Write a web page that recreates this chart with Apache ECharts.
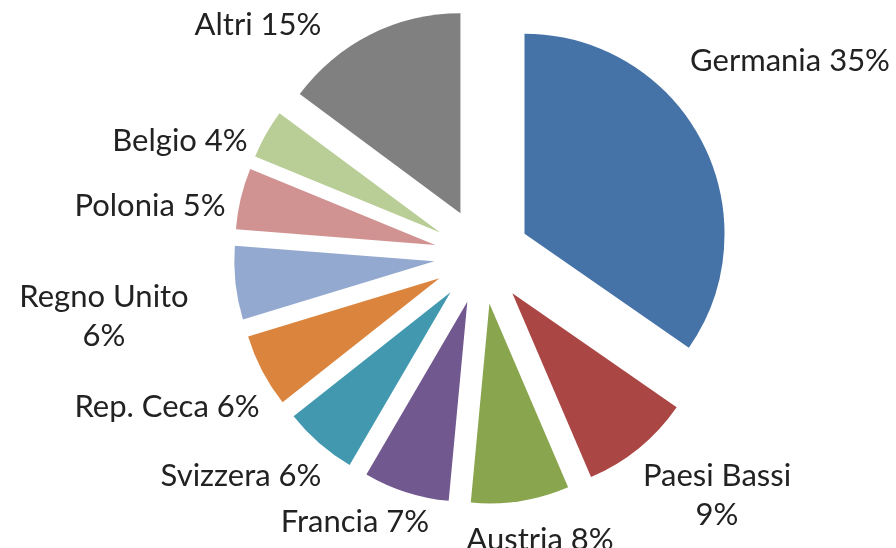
<!DOCTYPE html>
<html lang="it">
<head>
  <meta charset="utf-8">
  <title>Export per paese</title>
  <script src="https://cdn.jsdelivr.net/npm/echarts@6/dist/echarts.min.js"></script>
  <style>
    html, body { margin: 0; padding: 0; background: #fff; }
    #main { width: 896px; height: 548px; }
  </style>
</head>
<body>
<div id="main"></div>
<script type="text/javascript">
// dati: quota per paese (%)
var paesi = ['Germania', 'Paesi Bassi', 'Austria', 'Francia', 'Svizzera', 'Rep. Ceca', 'Regno Unito', 'Polonia', 'Belgio', 'Altri'];
var quote = [35, 9, 8, 7, 6, 6, 6, 5, 4, 15];
var aCapo = ['Paesi Bassi', 'Regno Unito'];   // etichette su due righe

var colori = ['#4572A7', '#AA4643', '#89A54E', '#71588F', '#4198AF', '#DB843D', '#93A9CF', '#D19392', '#B9CD96', '#808080'];

// posizione (centro) delle etichette, come nel grafico originale
var posEtichette = [
  [790, 61], [717, 495], [540, 540], [355, 522], [241, 476],
  [167, 407], [104, 316], [150, 206], [180, 141], [258, 25]
];

var dati = [], etichette = [];
for (var i = 0; i < paesi.length; i++) {
  dati.push({ name: paesi[i], value: quote[i], selected: true, itemStyle: { color: colori[i] } });
  var sep = aCapo.indexOf(paesi[i]) >= 0 ? '\n' : ' ';
  etichette.push({
    type: 'text',
    x: posEtichette[i][0],
    y: posEtichette[i][1],
    silent: true,
    style: {
      text: paesi[i] + sep + quote[i] + '%',
      fontFamily: 'Lato',
      fontSize: 31,
      lineHeight: 39,
      fill: '#222',
      align: 'center',
      verticalAlign: 'middle'
    }
  });
}

var chart = echarts.init(document.getElementById('main'));
var option = {
  animation: false,
  series: [{
    type: 'pie',
    center: [482, 256],
    radius: 200,
    startAngle: 90,
    clockwise: true,
    selectedMode: 'multiple',
    selectedOffset: 48,
    data: dati,
    emphasis: { disabled: true },
    label: { show: false },
    labelLine: { show: false }
  }],
  graphic: etichette
};
chart.setOption(option);
</script>
</body>
</html>
